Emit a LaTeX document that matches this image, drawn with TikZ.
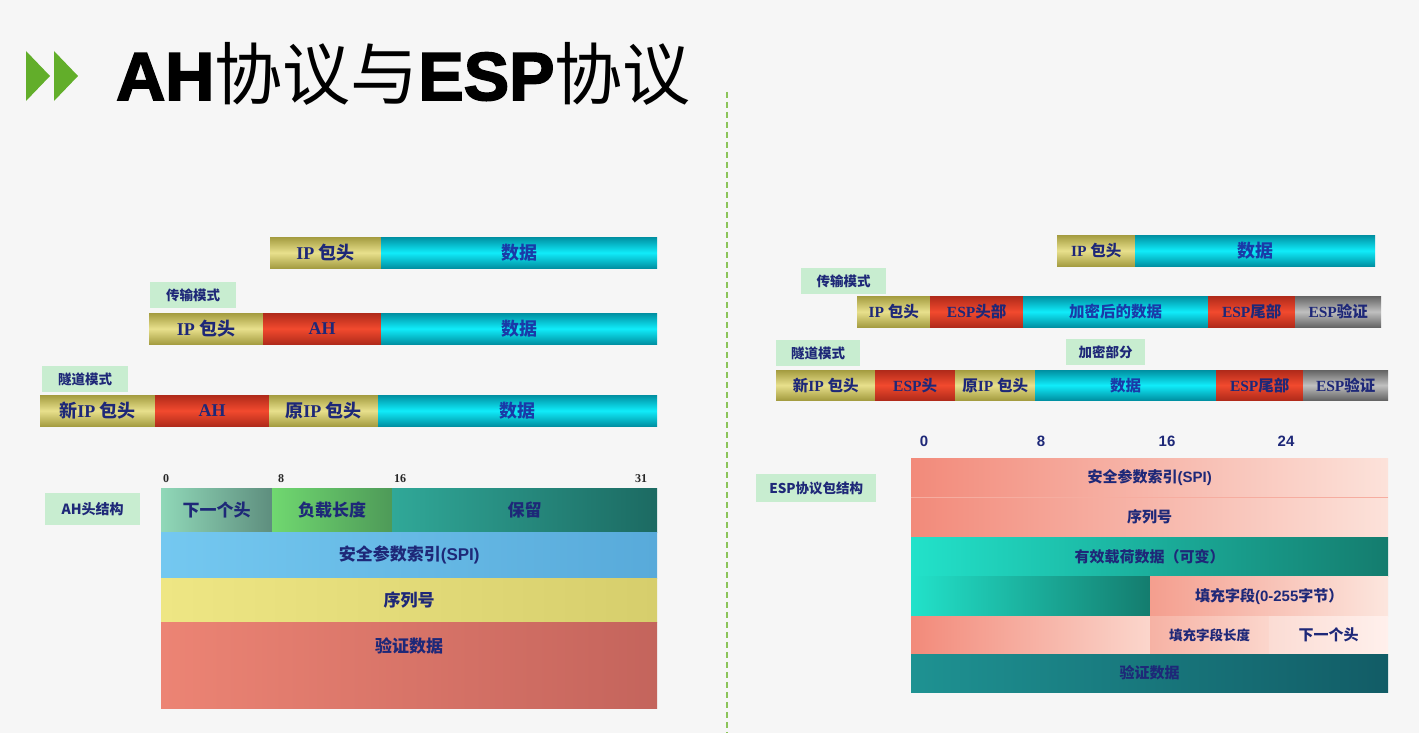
\documentclass[tikz,border=0pt]{standalone}
\usepackage{fontspec}
\setmainfont{Liberation Serif}
\newfontfamily\cjk{Noto Sans CJK SC}
\newfontfamily\hsans{Liberation Sans}
\newfontfamily\heavy{Liberation Sans}[UprightFeatures={FakeBold=2.5}, BoldFeatures={FakeBold=2.5}]
\definecolor{bgc}{HTML}{F6F6F6}
\definecolor{navy}{HTML}{1E2878}
\definecolor{datablue}{HTML}{1A3AA8}
\definecolor{khakiL}{HTML}{E8E08C}
\definecolor{khakiD}{HTML}{A49C40}
\definecolor{cyanL}{HTML}{10ECFA}
\definecolor{cyanD}{HTML}{0090A2}
\definecolor{redL}{HTML}{F24A2E}
\definecolor{redD}{HTML}{B02A1A}
\definecolor{grayL}{HTML}{C0C0C0}
\definecolor{grayD}{HTML}{646464}
\definecolor{tagfill}{HTML}{C8EDD0}
\definecolor{sepgreen}{HTML}{8CC45A}
\definecolor{arrowgreen}{HTML}{62AE2A}
% AH header field colours
\definecolor{nextL}{HTML}{90D8B8}\definecolor{nextR}{HTML}{5E8E7E}
\definecolor{lenL}{HTML}{70D870}\definecolor{lenR}{HTML}{4E9A58}
\definecolor{resL}{HTML}{30A898}\definecolor{resR}{HTML}{1C6A62}
\definecolor{spiL}{HTML}{74C8F0}\definecolor{spiR}{HTML}{58AADA}
\definecolor{seqL}{HTML}{EEE684}\definecolor{seqR}{HTML}{D6CE6C}
\definecolor{authL}{HTML}{EC8474}\definecolor{authR}{HTML}{C4645C}
% ESP packet field colours
\definecolor{salL}{HTML}{F28A7A}\definecolor{salR}{HTML}{FCE2DA}
\definecolor{tealL}{HTML}{22E2CA}\definecolor{tealR}{HTML}{147C6E}
\definecolor{padL}{HTML}{F49E8E}\definecolor{padR}{HTML}{FCE6DE}
\definecolor{plenL}{HTML}{F6B2A4}\definecolor{plenR}{HTML}{FBD6CC}
\definecolor{nhL}{HTML}{FBDCD4}\definecolor{nhR}{HTML}{FFF0EC}
\definecolor{eauL}{HTML}{1E9292}\definecolor{eauR}{HTML}{125C66}
\newcommand\zh[1]{{\cjk\bfseries #1}}
\newcommand\la[1]{{\bfseries #1}}
\tikzset{
  seg/.style={anchor=north west, minimum height=31pt, inner sep=0pt, text=navy},
  khaki/.style={top color=khakiD, bottom color=khakiD, middle color=khakiL},
  cyanbar/.style={top color=cyanD, bottom color=cyanD, middle color=cyanL, text=datablue},
  redbar/.style={top color=redD, bottom color=redD, middle color=redL},
  graybar/.style={top color=grayD, bottom color=grayD, middle color=grayL},
  tag/.style={anchor=north west, fill=tagfill, inner sep=0pt, text=navy, font=\fontsize{13.5}{13.5}\selectfont},
  cell/.style={anchor=north west, inner sep=0pt, text=navy},
  bitno/.style={anchor=base, text=black!85, font=\bfseries\fontsize{12}{12}\selectfont},
  bitnoE/.style={anchor=base, text=navy, font=\hsans\bfseries\fontsize{15}{15}\selectfont},
}
\begin{document}
\begin{tikzpicture}[x=1pt,y=-1pt]
\fill[bgc] (0,0) rectangle (1419,733);
\useasboundingbox (0,0) rectangle (1419,733);

% heading
\fill[arrowgreen] (26,51) -- (50,76) -- (26,101) -- cycle;
\fill[arrowgreen] (54,51) -- (78,76) -- (54,101) -- cycle;
\node[anchor=base west, inner sep=0pt, font=\fontsize{68}{68}\selectfont] (title) at (116,100)
  {{\heavy\bfseries AH}{\cjk 协议与}{\heavy\bfseries ESP}{\cjk 协议}};

% separator
\draw[sepgreen, line width=2pt, dash pattern=on 6pt off 4pt] (727,92) -- (727,733);

% ---------- AH: packet layouts ----------
\begin{scope}[every node/.append style={font=\fontsize{18}{18}\selectfont}]
\node[seg, khaki, minimum width=111pt] (a1ip) at (270,237) {\la{IP} \zh{包头}};
\node[seg, cyanbar, minimum width=276pt] (a1d) at (381,237) {\zh{数据}};

\node[tag, minimum width=86pt, minimum height=26pt] (atrans) at (150,282) {\zh{传输模式}};
\node[seg, khaki, minimum width=114pt] (a2ip) at (149,313) {\la{IP} \zh{包头}};
\node[seg, redbar, minimum width=118pt] (a2ah) at (263,313) {\la{AH}};
\node[seg, cyanbar, minimum width=276pt] (a2d) at (381,313) {\zh{数据}};

\node[tag, minimum width=86pt, minimum height=26pt] (atun) at (42,366) {\zh{隧道模式}};
\node[seg, khaki, minimum width=115pt] (a3nip) at (40,395) {\zh{新}\la{IP} \zh{包头}};
\node[seg, redbar, minimum width=114pt] (a3ah) at (155,395) {\la{AH}};
\node[seg, khaki, minimum width=109pt] (a3oip) at (269,395) {\zh{原}\la{IP} \zh{包头}};
\node[seg, cyanbar, minimum width=279pt] (a3d) at (378,395) {\zh{数据}};
\end{scope}

% ---------- AH header structure ----------
\node[bitno] (ab0) at (166,482) {0};
\node[bitno] (ab8) at (281,482) {8};
\node[bitno] (ab16) at (400,482) {16};
\node[bitno] (ab31) at (641,482) {31};
\node[tag, minimum width=95pt, minimum height=32pt, font=\fontsize{14}{14}\selectfont] (ahlbl) at (45,493) {\zh{AH头结构}};
\begin{scope}[every node/.append style={font=\fontsize{17}{17}\selectfont}]
\node[cell, left color=nextL, right color=nextR, minimum width=111pt, minimum height=44pt] (anext) at (161,488) {\zh{下一个头}};
\node[cell, left color=lenL, right color=lenR, minimum width=120pt, minimum height=44pt] (alen) at (272,488) {\zh{负载长度}};
\node[cell, left color=resL, right color=resR, minimum width=265pt, minimum height=44pt] (ares) at (392,488) {\zh{保留}};
\node[cell, left color=spiL, right color=spiR, minimum width=496pt, minimum height=46pt] (aspi) at (161,532) {\zh{安全参数索引}{\hsans\bfseries(SPI)}};
\node[cell, left color=seqL, right color=seqR, minimum width=496pt, minimum height=44pt] (aseq) at (161,578) {\zh{序列号}};
\node[cell, left color=authL, right color=authR, minimum width=496pt, minimum height=86pt] (aauth) at (161,622) {};
\node[text=navy, inner sep=0pt] (aauthtxt) at (409,646) {\zh{验证数据}};
\end{scope}

% ---------- ESP: packet layouts ----------
\begin{scope}[every node/.append style={font=\fontsize{15.5}{15.5}\selectfont}]
\node[seg, khaki, minimum width=78pt] (e1ip) at (1057,235) {\la{IP} \zh{包头}};
\node[seg, cyanbar, minimum width=240pt, font=\fontsize{18}{18}\selectfont] (e1d) at (1135,235) {\zh{数据}};

\node[tag, minimum width=85pt, minimum height=26pt] (etrans) at (801,268) {\zh{传输模式}};
\node[seg, khaki, minimum width=73pt] (e2ip) at (857,296) {\la{IP} \zh{包头}};
\node[seg, redbar, minimum width=93pt] (e2h) at (930,296) {\la{ESP}\zh{头部}};
\node[seg, cyanbar, minimum width=185pt] (e2d) at (1023,296) {\zh{加密后的数据}};
\node[seg, redbar, minimum width=87pt] (e2t) at (1208,296) {\la{ESP}\zh{尾部}};
\node[seg, graybar, minimum width=86pt] (e2a) at (1295,296) {\la{ESP}\zh{验证}};

\node[tag, minimum width=84pt, minimum height=26pt] (etun) at (776,340) {\zh{隧道模式}};
\node[tag, minimum width=79pt, minimum height=26pt] (eenc) at (1066,339) {\zh{加密部分}};
\node[seg, khaki, minimum width=99pt, minimum height=30pt] (e3nip) at (776,370) {\zh{新}\la{IP} \zh{包头}};
\node[seg, redbar, minimum width=80pt, minimum height=30pt] (e3h) at (875,370) {\la{ESP}\zh{头}};
\node[seg, khaki, minimum width=80pt, minimum height=30pt] (e3oip) at (955,370) {\zh{原}\la{IP} \zh{包头}};
\node[seg, cyanbar, minimum width=181pt, minimum height=30pt] (e3d) at (1035,370) {\zh{数据}};
\node[seg, redbar, minimum width=87pt, minimum height=30pt] (e3t) at (1216,370) {\la{ESP}\zh{尾部}};
\node[seg, graybar, minimum width=85pt, minimum height=30pt] (e3a) at (1303,370) {\la{ESP}\zh{验证}};
\end{scope}

% ---------- ESP packet structure ----------
\node[bitnoE] (eb0) at (924,446) {0};
\node[bitnoE] (eb8) at (1041,446) {8};
\node[bitnoE] (eb16) at (1167,446) {16};
\node[bitnoE] (eb24) at (1286,446) {24};
\node[tag, minimum width=120pt, minimum height=28pt] (esplbl) at (756,474) {\zh{ESP协议包结构}};
\begin{scope}[every node/.append style={font=\fontsize{15}{15}\selectfont}]
\node[cell, left color=salL, right color=salR, minimum width=477pt, minimum height=39pt] (espi) at (911,458) {\zh{安全参数索引}{\hsans\bfseries(SPI)}};
\node[cell, left color=salL, right color=salR, minimum width=477pt, minimum height=40pt] (eseq) at (911,497) {\zh{序列号}};
\node[cell, left color=tealL, right color=tealR, minimum width=477pt, minimum height=39pt] (epay) at (911,537) {\zh{有效载荷数据（可变）}};
\node[cell, left color=tealL, right color=tealR, minimum width=239pt, minimum height=40pt] (epay2) at (911,576) {};
\node[cell, left color=padL, right color=padR, minimum width=238pt, minimum height=40pt] (epad) at (1150,576) {\zh{填充字段}{\hsans\bfseries(0-255}\zh{字节）}};
\node[cell, left color=salL, right color=plenR, minimum width=239pt, minimum height=38pt] (efill) at (911,616) {};
\node[cell, left color=plenL, right color=plenR, minimum width=119pt, minimum height=38pt, font=\fontsize{13.5}{13.5}\selectfont] (epadlen) at (1150,616) {\zh{填充字段长度}};
\node[cell, left color=nhL, right color=nhR, minimum width=119pt, minimum height=38pt] (enext) at (1269,616) {\zh{下一个头}};
\node[cell, left color=eauL, right color=eauR, minimum width=477pt, minimum height=38pt] (eauth) at (911,654) {\zh{验证数据}};
% faint seam between the two salmon rows
\draw[salL!60!salR, line width=1pt] (espi.south west) -- (espi.south east);
\end{scope}
\end{tikzpicture}
\end{document}
